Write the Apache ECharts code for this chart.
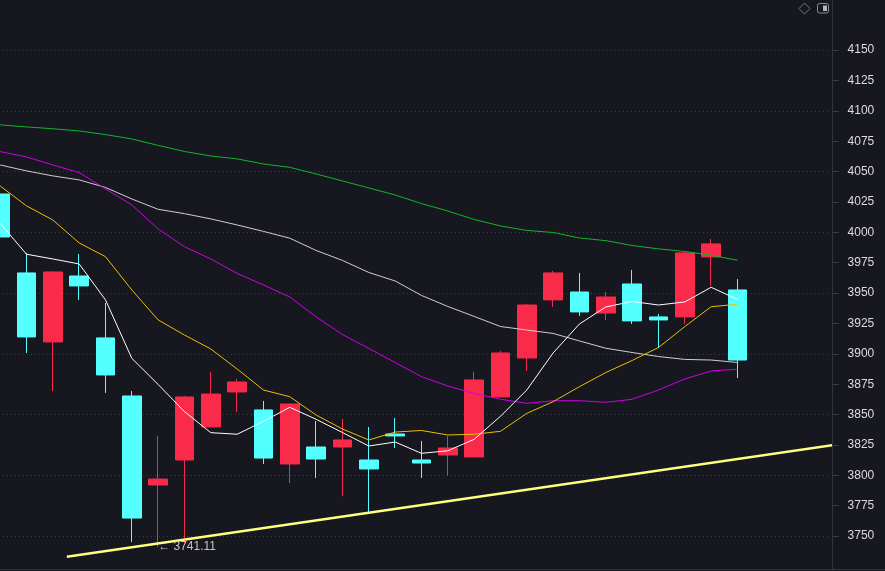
<!DOCTYPE html>
<html>
<head>
<meta charset="utf-8">
<title>K线</title>
<script src="https://cdn.jsdelivr.net/npm/echarts@6/dist/echarts.min.js"></script>
<style>
    html, body { margin: 0; padding: 0; background: #17171f; }
    #kline { width: 885px; height: 571px; }
</style>
</head>
<body>
<div id="kline"></div>
<script>
// 日期类目（后三格留空）
var days = ['01', '02', '03', '04', '05', '06', '07', '08', '09', '10', '11', '12', '13', '14', '15', '16',
    '17', '18', '19', '20', '21', '22', '23', '24', '25', '26', '27', '28', '29', '30', '31', '32'];

// K线 开 收 低 高
var openP = [4031.6, 3966.6, 3909.8, 3964.1, 3913.1, 3865.3, 3792.0, 3812.6, 3839.8, 3868.6, 3853.8, 3809.3, 3823.3, 3823.3, 3812.6,
    3834.0, 3812.6, 3816.7, 3815.1, 3864.5, 3896.6, 3944.4, 3950.9, 3933.6, 3957.5, 3930.4, 3930.4, 3979.8, 3952.6];
var closeP = [3996.2, 3913.9, 3967.4, 3955.9, 3882.6, 3764.8, 3796.9, 3864.5, 3866.9, 3876.8, 3814.2, 3858.7, 3813.4, 3829.1, 3805.2,
    3832.4, 3810.1, 3822.5, 3878.5, 3900.7, 3940.2, 3966.6, 3934.5, 3946.8, 3927.1, 3927.9, 3983.1, 3990.5, 3894.9];
var lowP = [3996.2, 3900.7, 3869.4, 3944.4, 3867.8, 3745.1, 3741.11, 3744.2, 3839.8, 3852.1, 3809.3, 3793.6, 3797.8, 3782.9, 3769.8,
    3822.5, 3797.8, 3799.4, 3815.1, 3864.5, 3885.9, 3938.6, 3931.2, 3927.9, 3924.6, 3904.8, 3924.6, 3955.9, 3880.1];
var highP = [4075.3, 3983.1, 3968.0, 3982.2, 3941.9, 3869.4, 3832.4, 3865.3, 3885.1, 3879.3, 3861.2, 3859.3, 3844.7, 3846.4, 3839.8,
    3847.2, 3828.2, 3832.4, 3885.1, 3902.4, 3941.1, 3968.2, 3966.6, 3950.9, 3969.1, 3932.8, 3983.9, 3994.6, 3961.6];

// 均线
var ma5 = [4007.5, 3982.0, 3978.1, 3974.0, 3944.4, 3896.3, 3874.8, 3852.4, 3835.1, 3833.8, 3844.4, 3856.0, 3846.1, 3835.2, 3824.1,
    3827.4, 3818.1, 3820.2, 3829.6, 3848.6, 3870.2, 3900.7, 3924.6, 3938.6, 3943.1, 3940.2, 3942.7, 3954.8, 3944.8];
var ma10 = [4038.2, 4021.8, 4010.2, 3991.3, 3980.0, 3952.6, 3927.9, 3915.5, 3904.0, 3887.5, 3870.2, 3864.7, 3849.6, 3838.1, 3829.1,
    3835.6, 3836.9, 3833.2, 3833.8, 3836.2, 3851.0, 3860.6, 3873.0, 3884.6, 3894.5, 3905.2, 3922.4, 3938.8, 3940.8];
var ma20 = [4066.5, 4062.1, 4055.5, 4049.2, 4035.8, 4022.6, 4002.8, 3988.2, 3978.1, 3966.2, 3956.7, 3946.8, 3930.4, 3915.9, 3904.4,
    3892.9, 3881.2, 3873.5, 3867.5, 3862.6, 3859.3, 3861.4, 3861.4, 3860.1, 3862.6, 3870.2, 3879.3, 3885.9, 3887.3];
var ma30 = [4055.5, 4050.6, 4046.5, 4043.2, 4037.0, 4027.5, 4019.0, 4015.4, 4011.1, 4006.1, 4000.8, 3995.2, 3985.1, 3976.9, 3967.0,
    3960.0, 3948.1, 3939.0, 3930.8, 3922.5, 3919.6, 3916.8, 3910.6, 3904.6, 3901.1, 3897.8, 3895.4, 3894.9, 3892.9];
var ma60 = [4088.5, 4086.8, 4085.3, 4083.5, 4080.5, 4076.9, 4071.6, 4066.6, 4062.9, 4060.5, 4056.3, 4053.5, 4048.1, 4042.3, 4036.6,
    4030.8, 4023.7, 4017.6, 4010.6, 4005.3, 4001.6, 3999.9, 3995.4, 3993.2, 3989.2, 3986.4, 3984.3, 3981.2, 3977.0];

// 趋势线两端 [类目位置, 价格]
var trendX = [2.53, 31.6];
var trendY = [3733.0, 3824.8];

// 最低点标注
var lowIdx = 6;
var lowValue = 3741.11;

// y轴刻度范围
var yMin = 3725;
var yMax = 4175;
var yStep = 25;

(function() {
    var myChart = echarts.init(document.getElementById('kline'));

    var kData = [];
    for (var i = 0; i < openP.length; i++) {
        kData.push([openP[i], closeP[i], lowP[i], highP[i]]);
    }
    var trendData = [[trendX[0], trendY[0]], [trendX[1], trendY[1]]];

    function maLine(name, data, color) {
        return {
            name: name,
            type: 'line',
            data: data,
            symbol: 'none',
            silent: true,
            lineStyle: { width: 1, color: color }
        };
    }

    var option = {
        animation: false,
        backgroundColor: '#17171f',
        grid: {
            left: -13,
            right: 55.4,
            top: 19.8,
            bottom: 4.6,
            outerBoundsMode: 'none'
        },
        xAxis: [{
            type: 'category',
            data: days,
            boundaryGap: true,
            show: false
        }, {
            type: 'value',
            min: -0.5,
            max: 31.5,
            show: false,
            axisLine: { onZero: false }
        }],
        yAxis: {
            type: 'value',
            position: 'right',
            offset: 3,
            min: yMin,
            max: yMax,
            interval: yStep,
            axisLine: { show: false, onZero: false },
            axisTick: {
                show: true,
                length: 6,
                lineStyle: { color: '#3a3f4b' }
            },
            axisLabel: {
                show: true,
                margin: 15,
                color: '#dcdcdc',
                fontSize: 12,
                fontFamily: 'Liberation Sans, Arial, sans-serif',
                showMinLabel: false,
                showMaxLabel: false,
                formatter: function(v) {
                    return String(v);
                }
            },
            // 虚线只画在整50处
            splitLine: {
                show: true,
                lineStyle: {
                    color: ['#17171f', '#3b3b45'],
                    type: [1, 3],
                    width: 1
                }
            }
        },
        series: [{
            name: 'K',
            type: 'candlestick',
            data: kData,
            barWidth: 19,
            itemStyle: {
                color: '#fa2a4a',
                color0: '#54ffff',
                borderColor: '#fa2a4a',
                borderColor0: '#54ffff',
                borderWidth: 1
            },
            markPoint: {
                symbol: 'circle',
                symbolSize: 0,
                silent: true,
                data: [{ coord: [lowIdx, lowValue], value: lowValue }],
                label: {
                    show: true,
                    position: 'right',
                    distance: 0,
                    formatter: '\u2190 ' + lowValue,
                    color: '#c4c4c4',
                    fontSize: 12,
                    fontFamily: 'Liberation Sans, Arial, sans-serif'
                }
            }
        },
            maLine('MA60', ma60, '#11b52a'),
            maLine('MA30', ma30, '#cfcfcf'),
            maLine('MA20', ma20, '#d000e6'),
            maLine('MA10', ma10, '#e6c200'),
            maLine('MA5', ma5, '#ffffff'),
        {
            name: '趋势线',
            type: 'line',
            xAxisIndex: 1,
            data: trendData,
            symbol: 'none',
            clip: false,
            silent: true,
            lineStyle: { width: 2.5, color: '#ffff80' }
        }],
        graphic: [{
            // 右侧坐标轴线
            type: 'line',
            shape: { x1: 832.5, y1: 0, x2: 832.5, y2: 569 },
            style: { stroke: '#2f3440', lineWidth: 1 }
        }, {
            // 底部边线
            type: 'line',
            shape: { x1: 0, y1: 569.5, x2: 885, y2: 569.5 },
            style: { stroke: '#2f3440', lineWidth: 1 }
        }, {
            type: 'polygon',
            shape: { points: [[804.5, 3], [810, 8.5], [804.5, 14], [799, 8.5]] },
            style: { fill: 'none', stroke: '#75757f', lineWidth: 1 }
        }, {
            type: 'rect',
            shape: { x: 817.5, y: 3.5, width: 11, height: 9.5, r: 2 },
            style: { fill: 'none', stroke: '#8c8c96', lineWidth: 1 }
        }, {
            type: 'rect',
            shape: { x: 823, y: 5.5, width: 4, height: 5.5 },
            style: { fill: '#b4b4bc' }
        }]
    };
    myChart.setOption(option);
})();
</script>
</body>
</html>
